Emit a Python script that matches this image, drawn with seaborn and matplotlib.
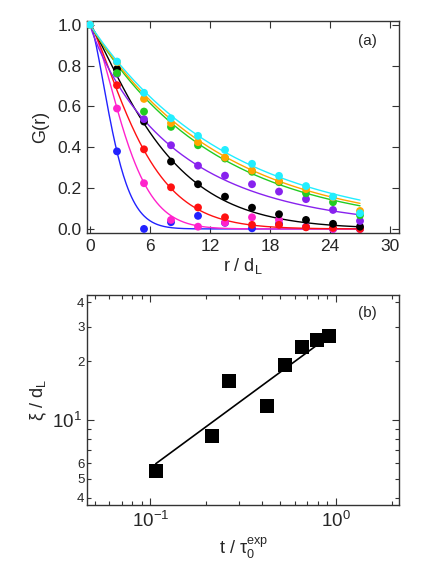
import numpy as np
import pandas as pd
import matplotlib
matplotlib.use('Agg')
import matplotlib.pyplot as plt
import matplotlib.ticker as mticker
import seaborn as sns

# --- panel (a): pair correlation G(r) ---
r_pts = [0, 2.7, 5.4, 8.1, 10.8, 13.5, 16.2, 18.9, 21.6, 24.3, 27.0]
g_blue = [1.0, 0.38, 0.0, 0.033, 0.064, 0.03, 0.003, 0.025, 0.01, 0.0, 0.0]
g_magenta = [1.0, 0.59, 0.224, 0.044, 0.011, 0.031, 0.057, 0.044, 0.01, 0.0, 0.0]
g_red = [1.0, 0.704, 0.39, 0.204, 0.105, 0.057, 0.02, 0.02, 0.008, 0.005, 0.0]
g_black = [1.0, 0.783, 0.526, 0.33, 0.219, 0.158, 0.104, 0.072, 0.044, 0.025, 0.011]
g_purple = [1.0, 0.76, 0.538, 0.41, 0.31, 0.261, 0.219, 0.183, 0.146, 0.093, 0.039]
g_green = [1.0, 0.763, 0.575, 0.50, 0.41, 0.345, 0.28, 0.229, 0.175, 0.131, 0.067]
g_orange = [1.0, 0.817, 0.637, 0.518, 0.425, 0.35, 0.286, 0.235, 0.195, 0.155, 0.088]
g_cyan = [1.0, 0.82, 0.667, 0.542, 0.456, 0.387, 0.319, 0.26, 0.21, 0.158, 0.077]

series_names = ['blue', 'magenta', 'red', 'black', 'purple', 'green', 'orange', 'cyan']
series_vals = [g_blue, g_magenta, g_red, g_black, g_purple, g_green, g_orange, g_cyan]
series_colors = ['#2222ff', '#ff22cc', '#ff1111', '#000000', '#8822ee', '#22cc22', '#ffa500', '#22eeff']
# stretched exponential fit parameters exp(-(r/xi)^beta)
fit_xi = [2.75, 4.14, 5.6, 7.62, 9.06, 12.4, 13.0, 13.8]
fit_beta = [1.5, 1.5, 1.3, 1.2, 0.9, 1.0, 1.0, 1.0]

# --- panel (b): correlation length vs time ---
t_vals = [0.107, 0.214, 0.265, 0.425, 0.531, 0.658, 0.793, 0.917]
xi_vals = [5.48, 8.28, 15.8, 11.75, 19.2, 23.6, 25.6, 27.0]
pow_amp = 28.4
pow_exp = 0.697
t_fit_range = [0.107, 0.92]

sns.set_theme(style='ticks')
plt.rcParams['font.family'] = ['Liberation Sans', 'DejaVu Sans']
plt.rcParams['mathtext.fontset'] = 'custom'
plt.rcParams['mathtext.rm'] = 'Liberation Sans'
plt.rcParams['mathtext.it'] = 'Liberation Sans:italic'
plt.rcParams['mathtext.default'] = 'regular'

df = pd.DataFrame({
    'r': np.tile(r_pts, len(series_names)),
    'G': np.concatenate(series_vals),
    'set': np.repeat(series_names, len(r_pts)),
})
r_line = np.linspace(0, 27, 300)
fit_df = pd.DataFrame({
    'r': np.tile(r_line, len(series_names)),
    'G': np.concatenate([np.exp(-(r_line / x) ** b) for x, b in zip(fit_xi, fit_beta)]),
    'set': np.repeat(series_names, len(r_line)),
})
pal = dict(zip(series_names, series_colors))

fig = plt.figure(figsize=(4.43, 5.84), dpi=100)
ax1 = fig.add_axes([0.1964, 0.601, 0.7043, 0.3635])
ax2 = fig.add_axes([0.197, 0.1353, 0.7037, 0.3596])

sns.lineplot(data=fit_df, x='r', y='G', hue='set', palette=pal, linewidth=1.0,
             legend=False, ax=ax1)
sns.scatterplot(data=df, x='r', y='G', hue='set', palette=pal, s=32, linewidth=0,
                legend=False, ax=ax1, zorder=3)
ax1.set_xlim(-0.3, 30.9)
ax1.set_ylim(-0.02, 1.02)
ax1.set_xticks(np.arange(0, 31, 6))
ax1.set_yticks(np.arange(0, 1.01, 0.2))
ax1.yaxis.set_major_formatter(mticker.FormatStrFormatter('%.1f'))
ax1.set_xlabel('r / d$_L$', fontsize=13, labelpad=2)
ax1.set_ylabel('G(r)', fontsize=13, labelpad=6)
ax1.text(0.9, 0.905, '(a)', transform=ax1.transAxes, ha='center', va='center', fontsize=11)

# panel (b)
pts = pd.DataFrame({'t': t_vals, 'xi': xi_vals})
t_line = np.logspace(np.log10(t_fit_range[0]), np.log10(t_fit_range[1]), 50)
line_df = pd.DataFrame({'t': t_line, 'xi': pow_amp * t_line ** pow_exp})
sns.lineplot(data=line_df, x='t', y='xi', color='black', linewidth=1.2, ax=ax2)
sns.scatterplot(data=pts, x='t', y='xi', marker='s', s=90, color='black', linewidth=0,
                ax=ax2, zorder=3)
ax2.set_xscale('log')
ax2.set_yscale('log')
ax2.set_xlim(0.0457, 2.19)
ax2.set_ylim(3.68, 43.5)
ax2.yaxis.set_major_locator(mticker.FixedLocator([10]))
ax2.yaxis.set_minor_locator(mticker.FixedLocator([4, 5, 6, 7, 8, 9, 20, 30, 40]))
ax2.yaxis.set_major_formatter(mticker.FixedFormatter(['10$^1$']))
ax2.yaxis.set_minor_formatter(mticker.FixedFormatter(['4', '5', '6', '', '', '', '2', '3', '4']))
ax2.xaxis.set_major_locator(mticker.FixedLocator([0.1, 1.0]))
ax2.xaxis.set_major_formatter(mticker.FixedFormatter(['10$^{-1}$', '10$^0$']))
ax2.xaxis.set_minor_locator(mticker.FixedLocator([0.05, 0.06, 0.07, 0.08, 0.09,
                                                  0.2, 0.3, 0.4, 0.5, 0.6, 0.7, 0.8, 0.9, 2.0]))
ax2.xaxis.set_minor_formatter(mticker.NullFormatter())
ax2.set_xlabel(r't / $\tau_0^{exp}$', fontsize=13, labelpad=4)
ax2.set_ylabel('\u03be / d$_L$', fontsize=13, labelpad=2)
ax2.text(0.9, 0.913, '(b)', transform=ax2.transAxes, ha='center', va='center', fontsize=11)

for ax in (ax1, ax2):
    ax.tick_params(which='both', direction='in', top=True, right=True, color='#333333')
    ax.tick_params(which='major', length=5, width=0.8, labelsize=12.5, pad=4)
    ax.tick_params(which='minor', length=3, width=0.8, labelsize=9.5, pad=2)
    for sp in ax.spines.values():
        sp.set_linewidth(1.0)
        sp.set_color('#333333')
ax2.tick_params(which='major', labelsize=13.5)

fig.savefig('out.png', dpi=100)
